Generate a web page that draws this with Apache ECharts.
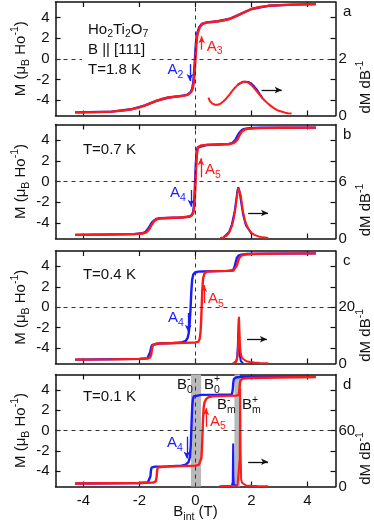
<!DOCTYPE html>
<html>
<head>
<meta charset="utf-8">
<script src="https://cdn.jsdelivr.net/npm/echarts@6/dist/echarts.min.js"></script>
<style>
  html, body { margin: 0; background: #fff; }
  #chart { width: 374px; height: 529px; }
</style>
</head>
<body>
<div id="chart"></div>
<script>
    // ---------- data: [B_int (T), value] ----------
    const FIELD_TICKS = [-4, -2, 0, 2, 4];
    const MOMENT_TICKS = [-4, -2, 0, 2, 4];

    // panel a, T = 1.8 K
    const mUpA = [[-4.3,-5.2],[-3.5,-5.17],[-3.0,-5.12],[-2.6,-5.03],[-2.3,-4.9],[-2.0,-4.72],[-1.8,-4.52],[-1.6,-4.3],[-1.4,-4.08],[-1.2,-3.9],[-1.0,-3.78],[-0.8,-3.7],[-0.6,-3.64],[-0.4,-3.57],[-0.25,-3.45],[-0.15,-3.2],[-0.1,-2.9],[-0.06,-2.3],[-0.03,-1.3],[0,0],[0.03,1.3],[0.06,2.2],[0.1,2.6],[0.15,3.05],[0.25,3.38],[0.4,3.5],[0.6,3.56],[0.8,3.63],[1.0,3.72],[1.2,3.85],[1.4,4.05],[1.6,4.32],[1.8,4.58],[2.0,4.82],[2.3,5.02],[2.6,5.13],[3.0,5.2],[3.5,5.25],[4.3,5.29]];
    const mDownA = [[-4.3,-5.2],[-3.0,-5.12],[-2.3,-4.9],[-1.8,-4.52],[-1.4,-4.08],[-1.0,-3.78],[-0.6,-3.64],[-0.3,-3.5],[-0.17,-3.22],[-0.12,-2.9],[-0.08,-2.3],[-0.05,-1.3],[-0.02,0],[0.01,1.3],[0.04,2.2],[0.08,2.65],[0.13,3.05],[0.23,3.38],[0.4,3.52],[0.8,3.63],[1.2,3.85],[1.6,4.32],[2.0,4.82],[2.6,5.13],[3.5,5.25],[4.3,5.29]];
    const dUpA = [[0.46,0.63],[0.52,0.5],[0.6,0.42],[0.7,0.38],[0.8,0.38],[0.9,0.42],[1.0,0.5],[1.1,0.6],[1.2,0.72],[1.3,0.85],[1.4,0.97],[1.5,1.07],[1.6,1.14],[1.7,1.18],[1.8,1.19],[1.9,1.15],[2.0,1.07],[2.1,0.96],[2.2,0.84],[2.3,0.72],[2.4,0.6],[2.5,0.5],[2.6,0.41],[2.7,0.33],[2.8,0.26],[2.9,0.2],[3.0,0.16],[3.1,0.13],[3.2,0.1],[3.3,0.08],[3.43,0.07]];
    const dDownA = [[1.5,1.08],[1.7,1.19],[1.9,1.18],[2.0,1.12],[2.1,1.02],[2.2,0.9],[2.3,0.75],[2.4,0.6]];

    // panel b, T = 0.7 K
    const mUpB = [[-4.3,-5.15],[-3.0,-5.12],[-2.2,-5.08],[-1.9,-5.02],[-1.75,-4.9],[-1.65,-4.6],[-1.58,-4.25],[-1.52,-3.98],[-1.46,-3.78],[-1.38,-3.64],[-1.25,-3.56],[-1.0,-3.52],[-0.6,-3.48],[-0.3,-3.42],[-0.15,-3.3],[-0.08,-3.05],[-0.04,-2.4],[-0.01,-0.8],[0.02,1.2],[0.05,2.6],[0.08,3.15],[0.12,3.38],[0.2,3.48],[0.4,3.53],[0.8,3.57],[1.2,3.62],[1.35,3.7],[1.45,3.88],[1.52,4.15],[1.58,4.5],[1.65,4.8],[1.75,5.0],[1.9,5.1],[2.2,5.15],[3.0,5.18],[4.3,5.2]];
    const mDownB = [[-4.3,-5.15],[-2.2,-5.08],[-1.9,-5.0],[-1.78,-4.85],[-1.68,-4.5],[-1.6,-4.15],[-1.54,-3.9],[-1.48,-3.74],[-1.4,-3.62],[-1.28,-3.55],[-1.0,-3.52],[-0.5,-3.48],[-0.2,-3.38],[-0.12,-3.2],[-0.08,-2.9],[-0.05,-2.2],[-0.02,-0.4],[0.01,1.6],[0.04,2.9],[0.08,3.3],[0.15,3.45],[0.4,3.52],[1.2,3.62],[1.32,3.72],[1.42,4.0],[1.5,4.4],[1.57,4.72],[1.65,4.95],[1.75,5.08],[1.9,5.14],[2.3,5.18],[4.3,5.2]];
    const dUpB = [[0.88,0.05],[1.0,0.12],[1.1,0.28],[1.2,0.6],[1.3,1.3],[1.36,2.0],[1.42,3.0],[1.46,3.9],[1.5,4.8],[1.53,5.3],[1.56,5.45],[1.59,5.2],[1.62,4.5],[1.66,3.6],[1.7,2.8],[1.76,2.0],[1.82,1.45],[1.9,1.0],[2.0,0.6],[2.1,0.38],[2.25,0.22],[2.4,0.12],[2.6,0.06]];
    const dDownB = [[1.0,0.12],[1.2,0.7],[1.3,1.5],[1.4,2.9],[1.46,4.2],[1.5,5.1],[1.53,5.4],[1.57,5.0],[1.62,4.0],[1.7,2.5],[1.8,1.4],[2.0,0.5]];

    // panel c, T = 0.4 K
    const mUpC = [[-4.3,-5.12],[-3.0,-5.1],[-2.0,-5.05],[-1.7,-5.0],[-1.62,-4.9],[-1.58,-4.6],[-1.55,-4.0],[-1.52,-3.7],[-1.48,-3.6],[-1.4,-3.55],[-1.0,-3.52],[-0.4,-3.48],[0.0,-3.44],[0.1,-3.38],[0.15,-3.1],[0.18,-2.4],[0.2,-1.4],[0.22,0],[0.24,1.5],[0.27,2.8],[0.32,3.3],[0.4,3.48],[0.7,3.53],[1.1,3.56],[1.36,3.6],[1.43,3.75],[1.48,4.1],[1.52,4.5],[1.57,4.85],[1.64,5.05],[1.75,5.15],[2.0,5.2],[3.0,5.24],[4.3,5.27]];
    const mDownC = [[-4.3,-5.12],[-2.0,-5.05],[-1.72,-5.0],[-1.66,-4.85],[-1.62,-4.4],[-1.58,-3.9],[-1.54,-3.68],[-1.48,-3.6],[-1.3,-3.55],[-0.8,-3.5],[-0.5,-3.45],[-0.35,-3.3],[-0.28,-3.0],[-0.24,-2.5],[-0.21,-1.6],[-0.18,-0.3],[-0.15,1.5],[-0.12,2.7],[-0.08,3.2],[-0.02,3.4],[0.1,3.48],[0.5,3.52],[1.2,3.56],[1.34,3.62],[1.39,3.9],[1.44,4.45],[1.48,4.85],[1.54,5.05],[1.64,5.15],[1.8,5.2],[2.5,5.24],[4.3,5.27]];
    const dUpC = [[1.33,0.1],[1.4,0.2],[1.45,0.5],[1.48,1.2],[1.5,2.5],[1.52,5.5],[1.54,11],[1.555,16.6],[1.57,12],[1.59,6.5],[1.61,4.0],[1.64,2.6],[1.68,1.8],[1.74,1.2],[1.82,0.8],[1.95,0.5],[2.1,0.35],[2.3,0.2],[2.6,0.1]];
    const dDownC = [[1.36,0.05],[1.42,0.3],[1.46,0.9],[1.49,2.5],[1.51,6],[1.53,12],[1.545,16],[1.56,9],[1.58,3],[1.62,0.8],[1.7,0.1]];

    // panel d, T = 0.1 K
    const mUpD = [[-4.3,-5.2],[-2.0,-5.15],[-1.5,-5.1],[-1.42,-5.0],[-1.39,-4.6],[-1.37,-3.9],[-1.35,-3.65],[-1.3,-3.58],[-1.1,-3.55],[-0.5,-3.5],[0.0,-3.45],[0.12,-3.38],[0.18,-3.2],[0.21,-2.7],[0.23,-1.8],[0.25,-0.3],[0.27,1.2],[0.29,2.2],[0.32,2.75],[0.37,3.05],[0.45,3.25],[0.6,3.35],[1.0,3.4],[1.45,3.43],[1.54,3.47],[1.57,4.0],[1.59,4.7],[1.61,4.95],[1.64,5.05],[1.7,5.1],[1.9,5.15],[3.0,5.2],[4.3,5.25]];
    const mDownD = [[-4.3,-5.2],[-2.0,-5.15],[-1.7,-5.1],[-1.64,-5.0],[-1.61,-4.5],[-1.59,-3.9],[-1.57,-3.65],[-1.54,-3.58],[-1.45,-3.55],[-1.0,-3.52],[-0.5,-3.45],[-0.35,-3.35],[-0.25,-3.1],[-0.2,-2.6],[-0.17,-1.5],[-0.15,0],[-0.13,1.5],[-0.11,2.6],[-0.09,3.1],[-0.06,3.35],[0.0,3.45],[0.2,3.5],[0.8,3.52],[1.3,3.55],[1.33,4.0],[1.35,4.7],[1.37,5.05],[1.4,5.15],[1.45,5.2],[1.6,5.25],[2.5,5.28],[4.3,5.3]];
    const dUpD = [[0.85,0.3],[1.0,0.5],[1.2,0.6],[1.4,0.8],[1.5,1.2],[1.55,3],[1.58,30],[1.595,105],[1.61,40],[1.63,8],[1.66,4],[1.7,2.5],[1.8,1.2],[2.0,0.8],[2.2,0.5],[2.6,0.4]];
    const dDownD = [[1.2,0.3],[1.3,0.8],[1.33,5],[1.345,46],[1.355,12],[1.37,2],[1.4,0.8],[1.5,0.3]];
    const bandsD = [[-0.16, 0.2], [1.39, 1.59]];   // B0-..B0+, Bm-..Bm+

    // ---------- look ----------
    const FONT = '"Liberation Sans", Arial, Helvetica, sans-serif';
    const RED = '#ff1a1a', BLUE = '#1a1aff', INK = '#111', BAND = '#b9b9b9';
    const M_MIN = -5.5, M_MAX = 5.5;

    const panels = [
      { letter: 'a', top: 2, height: 113.5, up: mUpA, down: mDownA, dUp: dUpA, dDown: dDownA, dMax: 4, dLabels: [0, 2],
        notes: [
          { at: [-3.84, 2.84], parts: ['Ho', ['2', 'sub'], 'Ti', ['2', 'sub'], 'O', ['7', 'sub']] },
          { at: [-3.84, 0.88], parts: ['B || [111]'], bg: true },
          { at: [-3.84, -1.08], parts: ['T=1.8 K'], bg: true },
          { at: [-1.0, -1.08], parts: ['A', ['2', 'sub']], color: BLUE },
          { at: [0.4, 1.2], parts: ['A', ['3', 'sub']], color: RED }
        ],
        arrows: [
          { from: [-0.2, -0.52], to: [-0.2, -2.16], color: BLUE },
          { from: [0.22, 0.88], to: [0.22, 2.19], color: RED },
          { from: [2.36, -3.04], to: [3.08, -3.04], color: INK }
        ] },
      { letter: 'b', top: 124.5, height: 114, up: mUpB, down: mDownB, dUp: dUpB, dDown: dDownB, dMax: 12, dLabels: [0, 6],
        notes: [
          { at: [-4.02, 3.04], parts: ['T=0.7 K'] },
          { at: [-0.91, -1.11], parts: ['A', ['4', 'sub']], color: BLUE },
          { at: [0.34, 1.11], parts: ['A', ['5', 'sub']], color: RED }
        ],
        arrows: [
          { from: [-0.16, -0.82], to: [-0.16, -2.43], color: BLUE },
          { from: [0.19, 0.4], to: [0.19, 2.24], color: RED },
          { from: [1.88, -3.04], to: [2.59, -3.04], color: INK }
        ] },
      { letter: 'c', top: 251, height: 112.5, up: mUpC, down: mDownC, dUp: dUpC, dDown: dDownC, dMax: 40, dLabels: [0, 20],
        notes: [
          { at: [-4.02, 3.15], parts: ['T=0.4 K'] },
          { at: [-0.98, -1.05], parts: ['A', ['4', 'sub']], color: BLUE },
          { at: [0.45, 0.81], parts: ['A', ['5', 'sub']], color: RED }
        ],
        arrows: [
          { from: [-0.26, -0.56], to: [-0.26, -2.39], color: BLUE },
          { from: [0.3, 0.42], to: [0.3, 2.17], color: RED },
          { from: [1.84, -3.13], to: [2.55, -3.13], color: INK }
        ] },
      { letter: 'd', top: 374.5, height: 112, up: mUpD, down: mDownD, dUp: dUpD, dDown: dDownD, dMax: 120, dLabels: [0, 60],
        bands: bandsD,
        notes: [
          { at: [-4.02, 3.33], parts: ['T=0.1 K'] },
          { at: [-1.02, -1.26], parts: ['A', ['4', 'sub']], color: BLUE },
          { at: [0.52, 0.87], parts: ['A', ['5', 'sub']], color: RED },
          { at: [-0.66, 4.48], parts: ['B', ['0', 'stack'], ['-', 'sup']] },
          { at: [0.3, 4.48], parts: ['B', ['0', 'stack'], ['+', 'sup']] },
          { at: [0.77, 2.5], parts: ['B', ['m', 'stack'], ['-', 'sup']] },
          { at: [1.66, 2.5], parts: ['B', ['m', 'stack'], ['+', 'sup']] }
        ],
        arrows: [
          { from: [-0.31, -0.61], to: [-0.31, -2.74], color: BLUE },
          { from: [0.375, 0.37], to: [0.375, 2.19], color: RED },
          { from: [1.88, -3.07], to: [2.59, -3.07], color: INK }
        ] }
    ];

    const frameLine = { color: INK, width: 1.5 };
    const tickStyle = { color: INK, width: 1.2 };
    const labelStyle = { fontFamily: FONT, fontSize: 15, color: INK };

    const grid = [], xAxis = [], yAxis = [], series = [];
    panels.forEach((p, i) => {
      grid.push({ left: 55.5, width: 280, top: p.top, height: p.height });
      ['bottom', 'top'].forEach(pos => {
        xAxis.push({
          gridIndex: i, type: 'value', position: pos, min: -5, max: 5,
          axisLine: { onZero: false, lineStyle: frameLine },
          axisTick: { inside: true, length: 5, customValues: FIELD_TICKS, lineStyle: tickStyle },
          axisLabel: { show: pos === 'bottom' && i === panels.length - 1, customValues: FIELD_TICKS, margin: 7, ...labelStyle },
          splitLine: { show: false }
        });
      });
      yAxis.push({
        gridIndex: i, type: 'value', position: 'left', min: M_MIN, max: M_MAX,
        axisLine: { onZero: false, lineStyle: frameLine },
        axisTick: { inside: true, length: 5, customValues: MOMENT_TICKS, lineStyle: tickStyle },
        axisLabel: { customValues: MOMENT_TICKS, margin: 6, ...labelStyle },
        splitLine: { show: false }
      });
      // right axis: dM/dB scale, ticks mirror the moment ticks
      yAxis.push({
        gridIndex: i, type: 'value', position: 'right', min: 0, max: p.dMax,
        axisLine: { onZero: false, lineStyle: frameLine },
        axisTick: { inside: true, length: 5, lineStyle: tickStyle,
          customValues: MOMENT_TICKS.map(m => (m - M_MIN) / (M_MAX - M_MIN) * p.dMax) },
        axisLabel: { customValues: p.dLabels, margin: 3, ...labelStyle },
        splitLine: { show: false }
      });

      const base = { type: 'line', showSymbol: false, silent: true, animation: false, xAxisIndex: 2 * i };
      series.push({
        ...base, yAxisIndex: 2 * i, data: p.down,
        lineStyle: { color: BLUE, width: 2.4 }, itemStyle: { color: BLUE },
        markLine: {
          silent: true, animation: false, symbol: 'none', label: { show: false },
          lineStyle: { color: '#333', width: 1, type: [4, 4] },
          data: [{ yAxis: 0 }, { xAxis: 0 }]
        },
        markArea: p.bands ? {
          silent: true, animation: false, itemStyle: { color: BAND },
          data: p.bands.map(([a, b]) => [{ xAxis: a }, { xAxis: b }])
        } : undefined
      });
      series.push({
        ...base, yAxisIndex: 2 * i, data: p.up,
        lineStyle: { color: RED, width: 2.4 }, itemStyle: { color: RED },
        markLine: {
          silent: true, animation: false, symbol: ['none', 'arrow'], symbolSize: [5, 7], label: { show: false },
          data: p.arrows.map(a => [
            { coord: a.from, lineStyle: { color: a.color, width: 1.3, type: 'solid' }, itemStyle: { color: a.color } },
            { coord: a.to, lineStyle: { color: a.color, width: 1.3, type: 'solid' }, itemStyle: { color: a.color } }
          ])
        }
      });
      series.push({ ...base, yAxisIndex: 2 * i + 1, data: p.dDown, lineStyle: { color: BLUE, width: 2 }, itemStyle: { color: BLUE } });
      series.push({ ...base, yAxisIndex: 2 * i + 1, data: p.dUp, lineStyle: { color: RED, width: 2 }, itemStyle: { color: RED } });
    });

    const chart = echarts.init(document.getElementById('chart'));
    chart.setOption({ animation: false, grid, xAxis, yAxis, series });

    // ---------- text with sub/superscripts as graphic groups ----------
    const measureCtx = document.createElement('canvas').getContext('2d');
    function measure(t, size) {
      measureCtx.font = size + 'px ' + FONT;
      return measureCtx.measureText(t).width;
    }

    function richLabel(parts, x, y, o = {}) {
      const size = o.size || 15;
      const color = o.color || INK;
      const texts = [];
      let cx = 0, held = 0;
      parts.forEach(part => {
        const [t, kind] = typeof part === 'string' ? [part, ''] : part;
        const fs = kind ? size * 0.7 : size;
        const dy = (kind === 'sub' || kind === 'stack') ? size * 0.33 : kind === 'sup' ? -size * 0.36 : 0;
        const w = measure(t, fs);
        texts.push({ type: 'text', x: cx, y: dy, z: 101, silent: true,
          style: { text: t, fontSize: fs, fontFamily: FONT, fill: color, textAlign: 'left', textVerticalAlign: 'middle' } });
        if (kind === 'stack') { held = w; }
        else { cx += Math.max(w, held); held = 0; }
      });
      const shift = o.align === 'center' ? -cx / 2 : 0;
      texts.forEach(t => { t.x += shift; });
      const children = [];
      if (o.bg) {
        children.push({ type: 'rect', z: 100, silent: true,
          shape: { x: shift - 6, y: -size / 2 - 6, width: cx + 12, height: size + 12 }, style: { fill: '#fff' } });
      }
      return { type: 'group', x, y, rotation: o.rotation || 0, z: 100, silent: true, children: children.concat(texts) };
    }

    const graphic = [];
    panels.forEach((p, i) => {
      p.notes.forEach(n => {
        const [px, py] = chart.convertToPixel({ seriesIndex: 4 * i + 1 }, n.at);
        graphic.push(richLabel(n.parts, px, py, n));
      });
      graphic.push(richLabel([p.letter], 343, p.top + 10));
      graphic.push(richLabel(['M (μ', ['B', 'sub'], ' Ho', ['-1', 'sup'], ')'], 21, p.top + p.height / 2,
        { align: 'center', rotation: Math.PI / 2 }));
      graphic.push(richLabel(['dM dB', ['-1', 'sup']], 366, p.top + p.height * 0.75,
        { align: 'center', rotation: Math.PI / 2 }));
    });
    graphic.push(richLabel(['B', ['int', 'sub'], ' (T)'], 195.5, 512, { align: 'center' }));
    chart.setOption({ graphic });
</script>
</body>
</html>
